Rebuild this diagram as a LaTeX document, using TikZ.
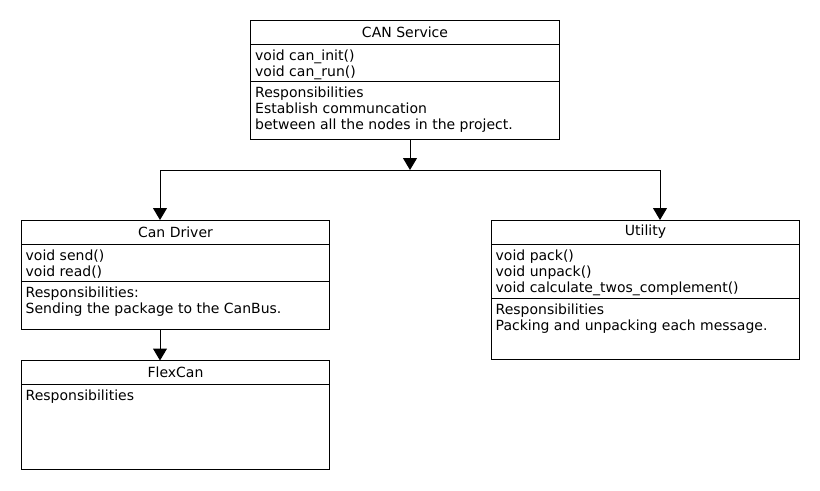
\documentclass[tikz,border=0pt]{standalone}
\usepackage{fontspec}
\setmainfont{DejaVu Sans}
\usepackage{tikz}
\usetikzlibrary{arrows.meta,positioning}

\begin{document}
\begin{tikzpicture}[x=0.75pt,y=-0.75pt,line width=0.75pt,
  font=\fontsize{10.5pt}{12pt}\selectfont,
  cls/.style={draw,minimum width=231.5pt,inner sep=0pt,outer sep=0pt},
  ttl/.style={cls,minimum height=18pt},
  part/.style={cls,minimum height=#1},
  txt/.style={anchor=north west,align=left,inner xsep=3pt,inner ysep=4pt},
  arr/.style={-{Triangle[width=10.5pt,length=9pt]}}]
\useasboundingbox (0,0) rectangle (820,490);
% top service
\node[ttl] (srv) at (405,32) {CAN Service};
\node[part=27.75pt,below=0pt of srv] (srvM) {};
\node[part=43.5pt,below=0pt of srvM] (srvR) {};
\node[txt] (srvMt) at (srvM.north west) {void can\_init()\\void can\_run()};
\node[txt] (srvRt) at (srvR.north west) {Responsibilities\\Establish communcation\\between all the nodes in the project.};
% driver
\node[ttl] (drv) at (175.5,232) {Can Driver};
\node[part=27.75pt,below=0pt of drv] (drvM) {};
\node[part=36pt,below=0pt of drvM] (drvR) {};
\node[txt] (drvMt) at (drvM.north west) {void send()\\void read()};
\node[txt] (drvRt) at (drvR.north west) {Responsibilities:\\Sending the package to the CanBus.};
% flexcan
\node[ttl] (flx) at (175.5,372.5) {FlexCan};
\node[part=63.75pt,below=0pt of flx] (flxR) {};
\node[txt] (flxRt) at (flxR.north west) {Responsibilities};
% utility
\node[ttl] (utl) at (645.5,232) {Utility};
\node[part=40.5pt,below=0pt of utl] (utlM) {};
\node[part=45.75pt,below=0pt of utlM] (utlR) {};
\node[txt] (utlMt) at (utlM.north west) {void pack()\\void unpack()\\void calculate\_twos\_complement()};
\node[txt] (utlRt) at (utlR.north west) {Responsibilities\\Packing and unpacking each message.};
% connectors
\coordinate (split) at (410,170);
\coordinate (jl) at (160,170);
\coordinate (jr) at (660,170);
\draw[arr] (srvR.south -| split) -- (split);
\draw (jl) -- (jr);
\draw[arr] (jl) -- (jl |- drv.north);
\draw[arr] (jr) -- (jr |- utl.north);
\draw[arr] (drvR.south -| jl) -- (flx.north -| jl);
\end{tikzpicture}
\end{document}
